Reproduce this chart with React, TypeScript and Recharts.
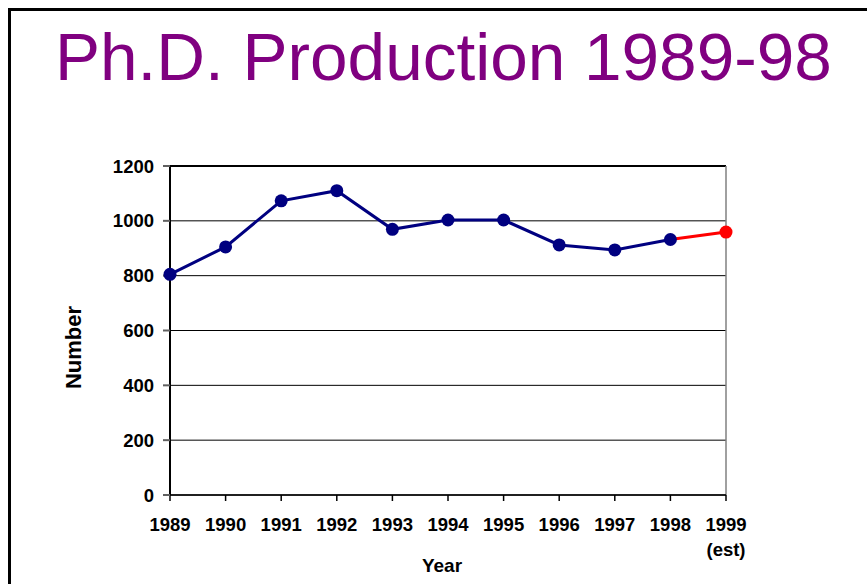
import React from 'react';
import { LineChart, Line, XAxis, YAxis, CartesianGrid, ReferenceLine, Label } from 'recharts';

const years = ['1989', '1990', '1991', '1992', '1993', '1994', '1995', '1996', '1997', '1998', '1999'];
const actual = [805, 905, 1073, 1110, 969, 1003, 1003, 912, 894, 932, null];
const estimate = [null, null, null, null, null, null, null, null, null, 932, 959];
const yTicks = [0, 200, 400, 600, 800, 1000, 1200];
const tickNotes: Record<string, string> = { '1999': '(est)' };

const chartData = years.map((year, i) => ({
  year,
  actual: actual[i],
  estimate: estimate[i],
}));

const FONT = '"Liberation Sans", Arial, sans-serif';

const YearTick = (props: any) => {
  const { x, y, payload } = props;
  const note = tickNotes[payload.value];
  return (
    <g transform={`translate(${x},${y})`}>
      <text x={0} y={0} dy={28} textAnchor="middle" fontFamily={FONT} fontSize={18.5} fontWeight="bold" fill="#000">
        {payload.value}
      </text>
      {note && (
        <text x={0} y={0} dy={53} textAnchor="middle" fontFamily={FONT} fontSize={18.5} fontWeight="bold" fill="#000">
          {note}
        </text>
      )}
    </g>
  );
};

const App: React.FC = () => {
  return (
    <div style={{ position: 'absolute', left: 0, top: 0, width: 867, height: 584, overflow: 'hidden', background: '#fff' }}>
      <div
        style={{
          position: 'absolute',
          left: 8,
          top: 8,
          width: 900,
          height: 700,
          border: '3px solid #000',
        }}
      />
      <div
        style={{
          position: 'absolute',
          left: 55,
          top: 23,
          fontFamily: FONT,
          fontSize: 67.5,
          lineHeight: 1,
          color: '#800080',
          whiteSpace: 'nowrap',
        }}
      >
        Ph.D. Production 1989-98
      </div>
      <div style={{ position: 'absolute', left: 0, top: 0 }}>
        <LineChart width={867} height={584} data={chartData} margin={{ top: 166, right: 141, bottom: 0, left: 0 }}>
          <CartesianGrid vertical={false} stroke="#000" strokeWidth={1} />
          <ReferenceLine y={1200} stroke="#000" strokeWidth={2} />
          <ReferenceLine x="1999" stroke="#808080" strokeWidth={1.5} />
          <XAxis
            dataKey="year"
            height={89}
            stroke="#000"
            strokeWidth={1.5}
            tickSize={6}
            tickLine={{ stroke: '#000' }}
            tick={<YearTick />}
            interval={0}
          >
            <Label
              value="Year"
              position="insideBottom"
              offset={12}
              dx={-6}
              style={{ fontFamily: FONT, fontSize: 19, fontWeight: 'bold', fill: '#000' }}
            />
          </XAxis>
          <YAxis
            width={170}
            domain={[0, 1200]}
            ticks={yTicks}
            interval={0}
            stroke="#000"
            strokeWidth={2}
            tickSize={7}
            tickMargin={9}
            tickLine={{ stroke: '#606060' }}
            tick={{ fontFamily: FONT, fontSize: 18.5, fontWeight: 'bold', fill: '#000' }}
          >
            <Label
              value="Number"
              angle={-90}
              position="center"
              dx={-12}
              dy={17}
              style={{ fontFamily: FONT, fontSize: 22, fontWeight: 'bold', fill: '#000' }}
            />
          </YAxis>
          <Line
            dataKey="estimate"
            stroke="#ff0000"
            strokeWidth={3}
            connectNulls={false}
            isAnimationActive={false}
            dot={(p: any) =>
              p.payload.year === '1999' ? (
                <circle key={`e-${p.index}`} cx={p.cx} cy={p.cy} r={6.5} fill="#ff0000" stroke="none" />
              ) : (
                <g key={`e-${p.index}`} />
              )
            }
          />
          <Line
            dataKey="actual"
            stroke="#000080"
            strokeWidth={3}
            isAnimationActive={false}
            dot={{ r: 6.5, fill: '#000080', stroke: 'none' }}
          />
        </LineChart>
      </div>
    </div>
  );
};

export default App;
